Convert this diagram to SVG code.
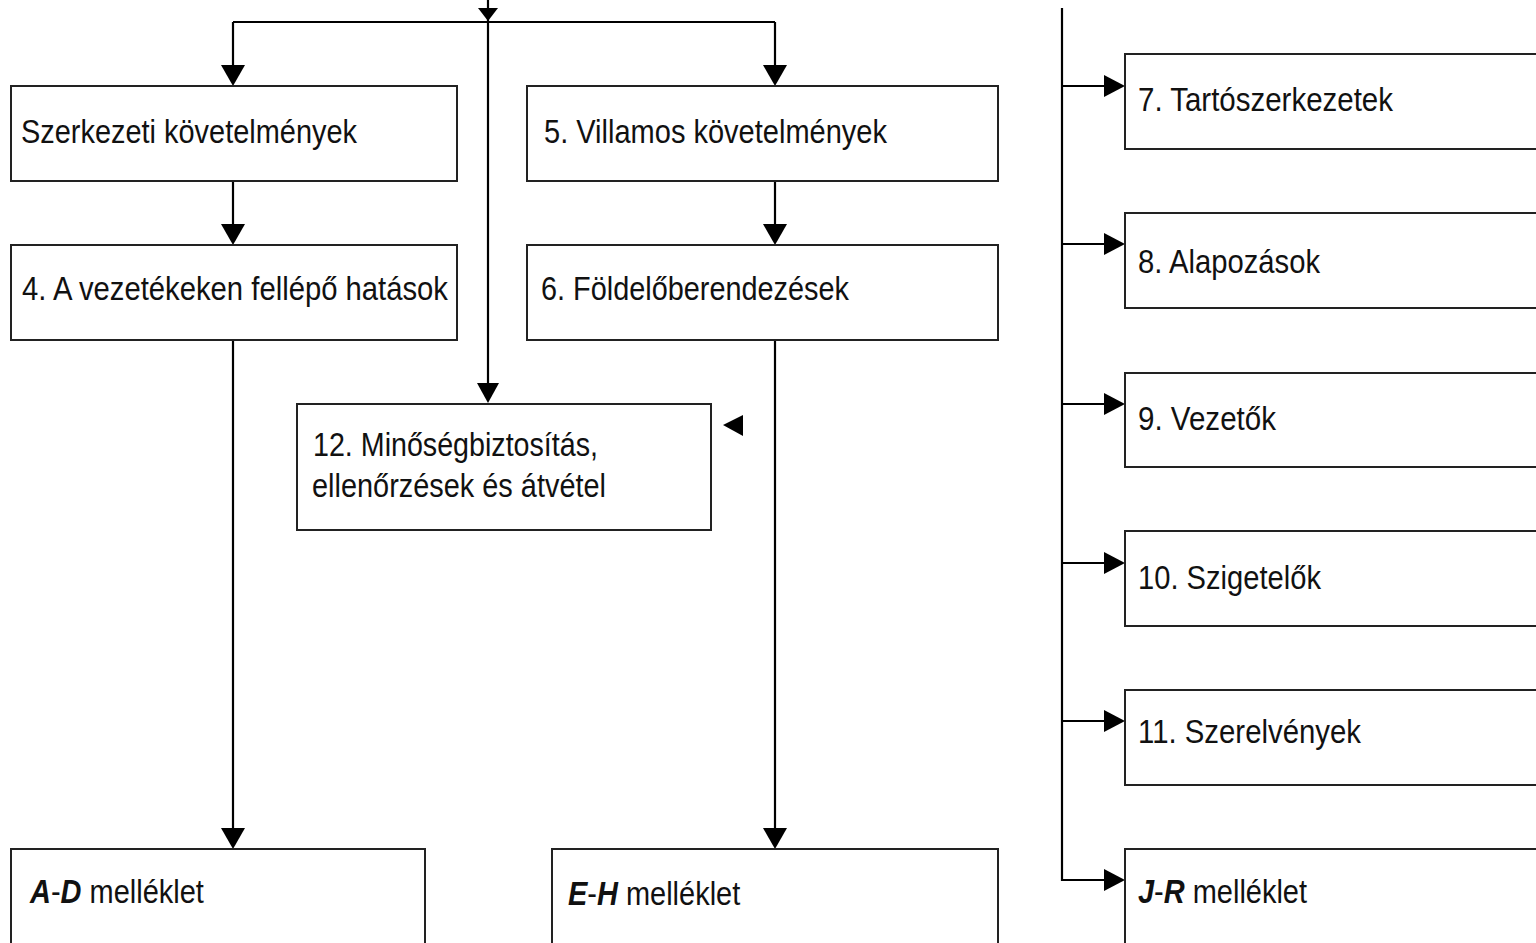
<svg xmlns="http://www.w3.org/2000/svg" width="1536" height="943" viewBox="0 0 1536 943">
<defs>
<style>
.box{fill:#fff;stroke:#222;stroke-width:2}
.t{font-family:"Liberation Sans",Arial,sans-serif;font-size:34px;fill:#111}
.bi{font-weight:bold;font-style:italic}
.ln{fill:none;stroke:#000;stroke-width:2.2}
.ah{fill:#000}
</style>
</defs>
<rect width="1536" height="943" fill="#fff"/>
<g id="connectors">
<path class="ln" d="M233,22 H775 M233,22 V66 M775,22 V66 M488,0 V384 M233,181 V225 M775,181 V225 M233,340 V829 M775,340 V829 M1062,8 V880 H1104 M1062,86 H1104 M1062,244 H1104 M1062,404 H1104 M1062,563 H1104 M1062,721 H1104"/>
<polygon class="ah" points="221,65 245,65 233,86"/>
<polygon class="ah" points="763,65 787,65 775,86"/>
<polygon class="ah" points="221,224 245,224 233,245"/>
<polygon class="ah" points="763,224 787,224 775,245"/>
<polygon class="ah" points="478,8 498,8 488,21"/>
<polygon class="ah" points="477,383 499,383 488,403"/>
<polygon class="ah" points="221,828 245,828 233,849"/>
<polygon class="ah" points="763,828 787,828 775,849"/>
<polygon class="ah" points="743,415 743,436 723,425"/>
<polygon class="ah" points="1104,75 1104,97 1125,86"/>
<polygon class="ah" points="1104,233 1104,255 1125,244"/>
<polygon class="ah" points="1104,393 1104,415 1125,404"/>
<polygon class="ah" points="1104,552 1104,574 1125,563"/>
<polygon class="ah" points="1104,710 1104,732 1125,721"/>
<polygon class="ah" points="1104,869 1104,891 1125,880"/>
</g>
<g id="n-szerkezeti"><rect class="box" x="11" y="86" width="446" height="95"/><text class="t" x="21" y="143" textLength="336" lengthAdjust="spacingAndGlyphs">Szerkezeti követelmények</text></g>
<g id="n-4"><rect class="box" x="11" y="245" width="446" height="95"/><text class="t" x="22" y="300" textLength="426" lengthAdjust="spacingAndGlyphs">4. A vezetékeken fellépő hatások</text></g>
<g id="n-5"><rect class="box" x="527" y="86" width="471" height="95"/><text class="t" x="544" y="143" textLength="343" lengthAdjust="spacingAndGlyphs">5. Villamos követelmények</text></g>
<g id="n-6"><rect class="box" x="527" y="245" width="471" height="95"/><text class="t" x="541" y="300" textLength="308" lengthAdjust="spacingAndGlyphs">6. Földelőberendezések</text></g>
<g id="n-12"><rect class="box" x="297" y="404" width="414" height="126"/><text class="t" x="313" y="456" textLength="285" lengthAdjust="spacingAndGlyphs">12. Minőségbiztosítás,</text><text class="t" x="312" y="497" textLength="294" lengthAdjust="spacingAndGlyphs">ellenőrzések és átvétel</text></g>
<g id="n-ad"><rect class="box" x="11" y="849" width="414" height="110"/><text class="t" transform="translate(30,903) scale(0.852,1)"><tspan class="bi">A</tspan>-<tspan class="bi">D</tspan> melléklet</text></g>
<g id="n-eh"><rect class="box" x="552" y="849" width="446" height="110"/><text class="t" transform="translate(568,905) scale(0.852,1)"><tspan class="bi">E</tspan>-<tspan class="bi">H</tspan> melléklet</text></g>
<g id="n-7"><rect class="box" x="1125" y="54" width="420" height="95"/><text class="t" x="1138" y="111" textLength="255" lengthAdjust="spacingAndGlyphs">7. Tartószerkezetek</text></g>
<g id="n-8"><rect class="box" x="1125" y="213" width="420" height="95"/><text class="t" x="1138" y="273" textLength="182" lengthAdjust="spacingAndGlyphs">8. Alapozások</text></g>
<g id="n-9"><rect class="box" x="1125" y="373" width="420" height="94"/><text class="t" x="1138" y="430" textLength="138" lengthAdjust="spacingAndGlyphs">9. Vezetők</text></g>
<g id="n-10"><rect class="box" x="1125" y="531" width="420" height="95"/><text class="t" x="1138" y="589" textLength="183" lengthAdjust="spacingAndGlyphs">10. Szigetelők</text></g>
<g id="n-11"><rect class="box" x="1125" y="690" width="420" height="95"/><text class="t" x="1138" y="743" textLength="223" lengthAdjust="spacingAndGlyphs">11. Szerelvények</text></g>
<g id="n-jr"><rect class="box" x="1125" y="849" width="420" height="110"/><text class="t" transform="translate(1138,903) scale(0.852,1)"><tspan class="bi">J</tspan>-<tspan class="bi">R</tspan> melléklet</text></g>
</svg>
